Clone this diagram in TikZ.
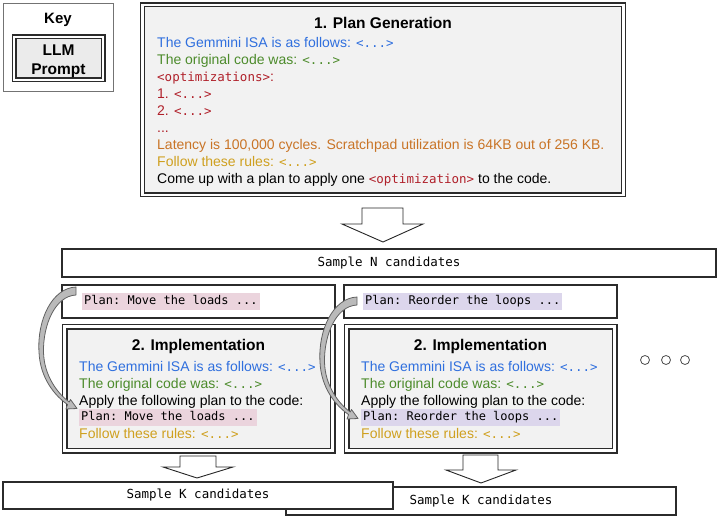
\documentclass[tikz,border=0pt]{standalone}
\usepackage{fontspec}
\setmainfont{Liberation Sans}
\setmonofont{DejaVu Sans Mono}
\definecolor{cblue}{HTML}{2F6FDE}
\definecolor{cgreen}{HTML}{4C8B2B}
\definecolor{cred}{HTML}{B0202A}
\definecolor{corange}{HTML}{C97426}
\definecolor{cgold}{HTML}{CFA01F}
\definecolor{cpink}{HTML}{EBD4DD}
\definecolor{cpurple}{HTML}{DCD6EC}
\definecolor{boxgray}{HTML}{F2F2F2}
\definecolor{edgec}{HTML}{2B2B2B}
\newcommand{\mcode}[1]{{\fontsize{12.5}{15}\selectfont\ttfamily #1}}
\begin{document}
\begin{tikzpicture}[x=1pt,y=-1pt,
  every node/.style={inner sep=0pt},
  dbox/.style={draw=edgec, line width=1.1pt, double=white, double distance=2.8pt, fill=boxgray, minimum width=#1},
  sbox/.style={draw=edgec, line width=1.1pt, fill=white},
  ln/.style={anchor=base west, font=\fontsize{14}{16}\selectfont},
  ttl/.style={anchor=base, font=\fontsize{15.5}{18}\selectfont\bfseries},
  hl/.style={anchor=base west, fill=#1, inner xsep=2pt, inner ysep=1.5pt, text height=10pt, text depth=3.5pt, font=\fontsize{12}{15}\selectfont\ttfamily},
  samp/.style={sbox, font=\fontsize{12.5}{15}\selectfont\ttfamily},
  barrow/.style={draw=black!85, fill=white, line width=0.9pt, line join=miter},
  carrow/.style={draw=black!62, fill=black!27, line width=0.8pt, line join=round},
  dotc/.style={circle, draw=black!70, line width=0.8pt, minimum size=9pt}
]
\useasboundingbox (0,0) rectangle (720,521);

% Key
\node[draw=black!55, line width=0.8pt, fill=white, minimum width=110pt, minimum height=88pt] (key) at (58,47) {};
\node[anchor=base, font=\fontsize{15}{18}\selectfont\bfseries] (keyt) at (58,24) {Key};
\node[dbox=89pt, double distance=2.8pt, minimum height=43pt, fill=black!8] (llm) at (58.5,58.5) {};
\node[anchor=base, font=\fontsize{15.5}{18}\selectfont\bfseries] (llm1) at (58.5,55.5) {LLM};
\node[anchor=base, font=\fontsize{15.5}{18}\selectfont\bfseries] (llm2) at (58.5,74.5) {Prompt};

% Plan generation
\node[dbox=481pt, minimum height=190pt] (pg) at (383,100) {};
\node[ttl] (pgt) at (383,28.5) {1. Plan Generation};
\node[ln, text=cblue] (pg1) at (157,48) {The Gemmini ISA is as follows: \mcode{<...>}};
\node[ln, text=cgreen] (pg2) at (157,65) {The original code was: \mcode{<...>}};
\node[ln, text=cred] (pg3) at (157,82) {\mcode{<optimizations>}:};
\node[ln, text=cred] (pg4) at (157,99) {1. \mcode{<...>}};
\node[ln, text=cred] (pg5) at (157,116) {2. \mcode{<...>}};
\node[ln, text=cred] (pg6) at (157,133) {...};
\node[ln, text=corange] (pg7) at (157,150) {Latency is 100,000 cycles. Scratchpad utilization is 64KB out of 256 KB.};
\node[ln, text=cgold] (pg8) at (157,167) {Follow these rules: \mcode{<...>}};
\node[ln] (pg9) at (157,184) {Come up with a plan to apply one {\color{cred}\mcode{<optimization>}} to the code.};

% arrow to Sample N
\draw[barrow] (362,208) -- (403,208) -- (403,224) -- (423,224) -- (383,242) -- (342,224) -- (362,224) -- cycle;

% Sample N
\node[samp, minimum width=654pt, minimum height=28pt] (sn) at (389,263) {Sample N candidates};

% Plan boxes
\node[sbox, minimum width=273pt, minimum height=33pt] (pl) at (198.5,301.5) {};
\node[hl=cpink] (plt) at (82,305) {Plan: Move the loads ...};
\node[sbox, minimum width=273pt, minimum height=33pt] (pr) at (480.5,301.5) {};
\node[hl=cpurple] (prt) at (363,305) {Plan: Reorder the loops ...};

% Implementation boxes
\node[dbox=268pt, double distance=3.8pt, minimum height=124pt] (il) at (198.5,388.5) {};
\node[ttl] (ilt) at (198.5,350.5) {2. Implementation};
\node[ln, text=cblue] (il1) at (79,371.5) {The Gemmini ISA is as follows: \mcode{<...>}};
\node[ln, text=cgreen] (il2) at (79,388) {The original code was: \mcode{<...>}};
\node[ln] (il3) at (79,405) {Apply the following plan to the code:};
\node[hl=cpink] (il4) at (79,420.5) {Plan: Move the loads ...};
\node[ln, text=cgold] (il5) at (79,438) {Follow these rules: \mcode{<...>}};

\node[dbox=268pt, double distance=3.8pt, minimum height=124pt] (ir) at (480.5,388.5) {};
\node[ttl] (irt) at (480.5,350.5) {2. Implementation};
\node[ln, text=cblue] (ir1) at (361,371.5) {The Gemmini ISA is as follows: \mcode{<...>}};
\node[ln, text=cgreen] (ir2) at (361,388) {The original code was: \mcode{<...>}};
\node[ln] (ir3) at (361,405) {Apply the following plan to the code:};
\node[hl=cpurple] (ir4) at (361,420.5) {Plan: Reorder the loops ...};
\node[ln, text=cgold] (ir5) at (361,438) {Follow these rules: \mcode{<...>}};

% ellipsis
\node[dotc] (d1) at (645,360) {};
\node[dotc] (d2) at (666,360) {};
\node[dotc] (d3) at (685,360) {};

% curved arrows
\foreach \dx/\dy in {0/0,281/10}{
\begin{scope}[shift={(\dx,\dy)}]
\filldraw[carrow] (76,287) .. controls (52,288) and (37,320) .. (39,352)
  .. controls (40,378) and (55,396) .. (67.5,404.5) -- (66,409) -- (77,408.5) -- (70.5,399.5) -- (69.3,402)
  .. controls (58,394) and (44,376) .. (43.5,352)
  .. controls (43,325) and (55,296) .. (76,295) -- cycle;
\end{scope}}

% bottom arrows
\draw[barrow] (180,456) -- (216,456) -- (216,467) -- (233,467) -- (197,478) -- (163,467) -- (180,467) -- cycle;
\draw[barrow] (463,455) -- (498,455) -- (498,470) -- (516,470) -- (481,483) -- (446,470) -- (463,470) -- cycle;

% Sample K boxes
\node[samp, minimum width=390pt, minimum height=28pt] (skr) at (481,501) {Sample K candidates};
\node[samp, minimum width=390pt, minimum height=27pt] (skl) at (198,495.5) {Sample K candidates};
\end{tikzpicture}
\end{document}
